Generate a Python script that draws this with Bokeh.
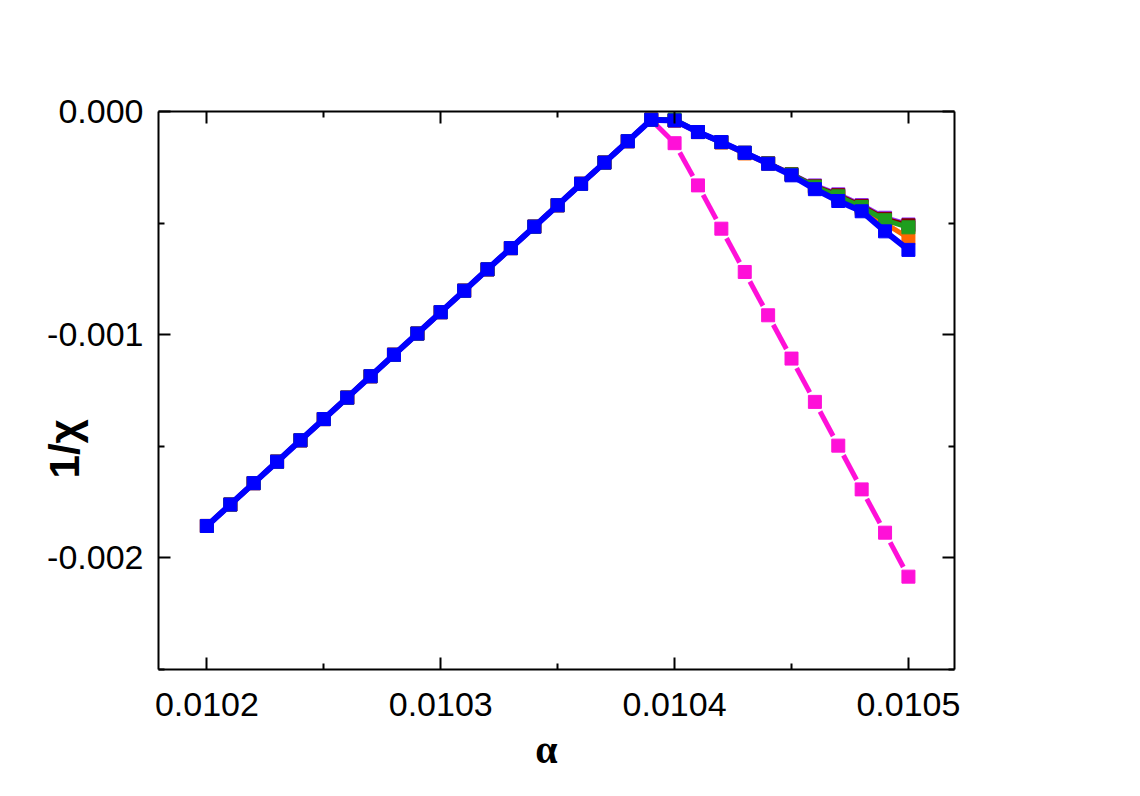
from bokeh.plotting import figure
from bokeh.models import (Range1d, FixedTicker, PrintfTickFormatter, LinearAxis)
from bokeh.embed import file_html
from bokeh.resources import INLINE

# ---------------- data ----------------
alpha = [0.01020, 0.01021, 0.01022, 0.01023, 0.01024, 0.01025, 0.01026, 0.01027,
         0.01028, 0.01029, 0.01030, 0.01031, 0.01032, 0.01033, 0.01034, 0.01035,
         0.01036, 0.01037, 0.01038, 0.01039, 0.01040, 0.01041, 0.01042, 0.01043,
         0.01044, 0.01045, 0.01046, 0.01047, 0.01048, 0.01049, 0.01050]

left_branch = [-0.001857, -0.001761, -0.001665, -0.001569, -0.001473, -0.001378,
               -0.001282, -0.001186, -0.001090, -0.000995, -0.000899, -0.000803,
               -0.000707, -0.000612, -0.000516, -0.000420, -0.000324, -0.000229,
               -0.000133, -0.000037]

blue_right = [-0.000040, -0.000092, -0.000137, -0.000185, -0.000234, -0.000286,
              -0.000348, -0.000401, -0.000447, -0.000537, -0.000620]
pink_right = [-0.000142, -0.000331, -0.000525, -0.000719, -0.000913, -0.001107,
              -0.001301, -0.001497, -0.001693, -0.001887, -0.002084]
purple_right = [-0.000040, -0.000092, -0.000137, -0.000185, -0.000232, -0.000280,
                -0.000331, -0.000371, -0.000419, -0.000476, -0.000506]
darkred_right = [-0.000040, -0.000092, -0.000137, -0.000185, -0.000232, -0.000281,
                 -0.000335, -0.000375, -0.000423, -0.000481, -0.000510]
green_right = [-0.000036, -0.000092, -0.000137, -0.000185, -0.000233, -0.000282,
               -0.000337, -0.000380, -0.000428, -0.000487, -0.000519]
orange_right = [-0.000040, -0.000092, -0.000139, -0.000188, -0.000234, -0.000284,
                -0.000342, -0.000387, -0.000436, -0.000501, -0.000566]

blue = left_branch + blue_right
pink = left_branch + pink_right
purple = left_branch + purple_right
darkred = left_branch + darkred_right
green = left_branch + green_right
orange = left_branch + orange_right

x_ticks = [0.0102, 0.0103, 0.0104, 0.0105]
y_ticks = [0.0, -0.001, -0.002]

NB = "\u00a0"
x_title = "α" + NB * 2
y_title = "1/χ" + NB * 10

# ---------------- figure ----------------
W, H = 1124, 780
p = figure(width=W, height=H, output_backend="svg", toolbar_location=None,
           x_range=Range1d(0.0101793, 0.0105197), y_range=Range1d(-0.0025, 0.0),
           min_border_left=158, min_border_right=W - 954, min_border_top=111,
           min_border_bottom=H - 669, x_axis_location=None, y_axis_location=None)
p.xgrid.visible = False
p.ygrid.visible = False
p.outline_line_color = None
p.background_fill_color = "white"
p.border_fill_color = "white"

FONT = "Liberation Sans"


def style_axis(ax, ticks, minor_ticks, fmt, show_labels, standoff):
    ax.ticker = FixedTicker(ticks=ticks, minor_ticks=minor_ticks)
    ax.formatter = PrintfTickFormatter(format=fmt)
    ax.axis_line_width = 2
    ax.axis_line_color = "black"
    ax.major_tick_in = 12
    ax.major_tick_out = 0
    ax.minor_tick_in = 6
    ax.minor_tick_out = 0
    ax.major_tick_line_width = 2
    ax.minor_tick_line_width = 2
    ax.major_tick_line_color = "black"
    ax.minor_tick_line_color = "black"
    ax.major_label_text_font = FONT
    ax.major_label_text_color = "black"
    ax.major_label_standoff = standoff
    if show_labels:
        ax.major_label_text_font_size = "34px"
    else:
        ax.major_label_text_font_size = "0px"
        ax.major_label_text_alpha = 0


x_minor = [0.01015, 0.01025, 0.01035, 0.01045, 0.01055]
y_minor = [-0.0005, -0.0015, -0.0025]

bottom = LinearAxis(axis_label=x_title)
style_axis(bottom, x_ticks, x_minor, "%.4f", True, 23)
bottom.axis_label_text_font = "Liberation Serif"
bottom.axis_label_text_font_size = "40px"
bottom.axis_label_text_font_style = "bold"
bottom.axis_label_text_color = "black"
bottom.axis_label_standoff = 8

top = LinearAxis()
style_axis(top, x_ticks, x_minor, "%.4f", False, 0)

left = LinearAxis(axis_label=y_title)
style_axis(left, y_ticks, y_minor, "%.3f", True, 15)
left.axis_label_text_font = FONT
left.axis_label_text_font_size = "42px"
left.axis_label_text_font_style = "bold"
left.axis_label_text_color = "black"
left.axis_label_standoff = -44

right = LinearAxis()
style_axis(right, y_ticks, y_minor, "%.3f", False, 0)
p.add_layout(bottom, "below")
p.add_layout(top, "above")
p.add_layout(left, "left")
p.add_layout(right, "right")

# ---------------- series ----------------
# pink: line with gaps around the symbols
f = 0.22
x0 = [alpha[i] + f * (alpha[i + 1] - alpha[i]) for i in range(len(alpha) - 1)]
x1 = [alpha[i + 1] - f * (alpha[i + 1] - alpha[i]) for i in range(len(alpha) - 1)]
y0 = [pink[i] + f * (pink[i + 1] - pink[i]) for i in range(len(pink) - 1)]
y1 = [pink[i + 1] - f * (pink[i + 1] - pink[i]) for i in range(len(pink) - 1)]
p.segment(x0=x0, y0=y0, x1=x1, y1=y1, line_color="#FF10D8", line_width=5)
p.scatter(alpha, pink, marker="square", size=13, fill_color="#FF10D8",
          line_color="#FF10D8", line_width=1)

for ys, col in [(purple, "#9933FF"), (darkred, "#800000"),
                (orange, "#FF6600"), (green, "#1E9E1E")]:
    p.line(alpha, ys, line_color=col, line_width=5)
    p.scatter(alpha, ys, marker="square", size=13, fill_color=col,
              line_color=col, line_width=1)

p.line(alpha, blue, line_color="#0000FF", line_width=6)
p.scatter(alpha, blue, marker="square", size=13, fill_color="#0000FF",
          line_color="#0000FF", line_width=1)

open("out.html", "w").write(file_html(p, INLINE))
